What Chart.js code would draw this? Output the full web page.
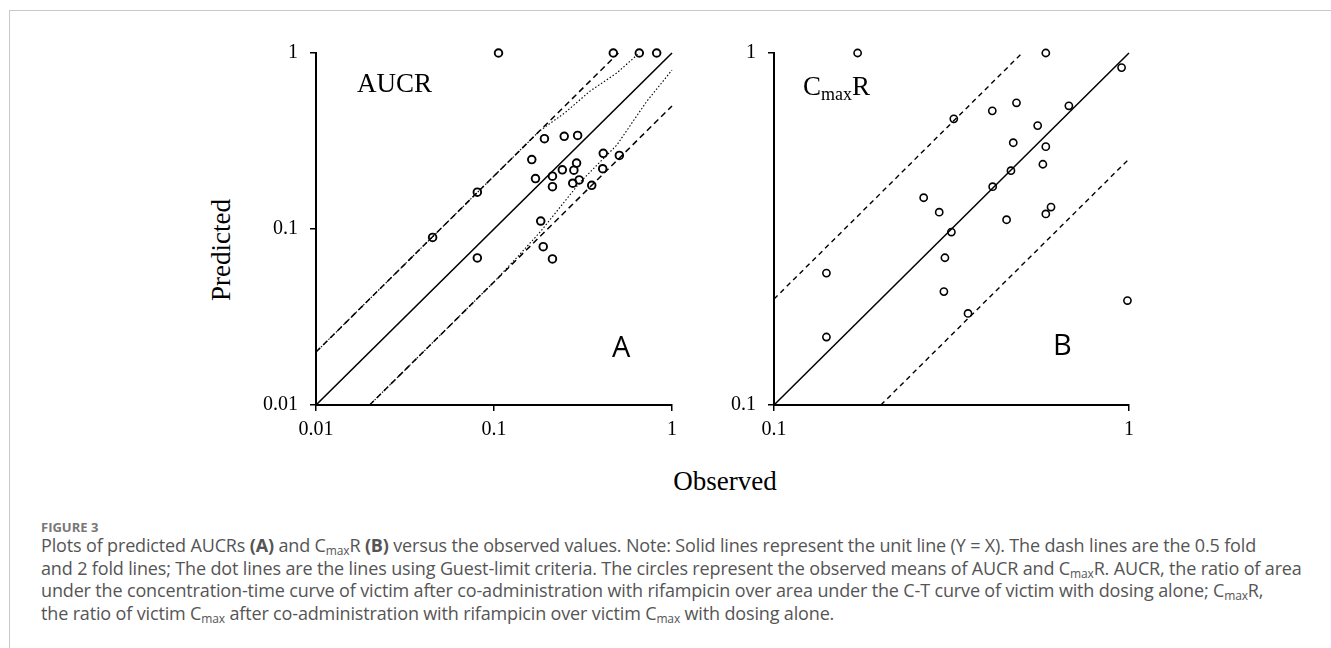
<!DOCTYPE html>
<html>
<head>
<meta charset="utf-8">
<script src="https://cdn.jsdelivr.net/npm/chart.js@4.4.1/dist/chart.umd.min.js"></script>
<style>
  html, body { margin: 0; padding: 0; background: #fff; }
  body { width: 1331px; height: 648px; position: relative; overflow: hidden; }
  .frame { position: absolute; left: 9px; top: 10px; width: 1340px; height: 660px; border: 1px solid #c8c8c8; }
  canvas { position: absolute; }
  .lbl { position: absolute; font-family: 'Liberation Serif', 'Times New Roman', serif; font-size: 27px; line-height: 27px; color: #000; white-space: nowrap; }
  .lbl sub { font-size: 18px; vertical-align: -5px; line-height: 0; }
  .tag { position: absolute; font-family: 'Open Sans', sans-serif; font-size: 29px; line-height: 29px; color: #000; }
  .fig { position: absolute; left: 41px; top: 521px; font-family: 'Open Sans', sans-serif; font-weight: 700; font-size: 13px; line-height: 13px; color: #777; }
  .cap { position: absolute; left: 41px; top: 534px; font-family: 'Open Sans', sans-serif; font-size: 18px; line-height: 22.7px; color: #555; letter-spacing: -0.15px; }
  .cap div { white-space: nowrap; }
  .cap sub { font-size: 12px; vertical-align: -3px; line-height: 0; }
</style>
</head>
<body>
<div class="frame"></div>
<canvas id="chartA" width="450" height="431" style="left:236px;top:29px"></canvas>
<canvas id="chartB" width="450" height="431" style="left:694px;top:29px"></canvas>

<div class="lbl" style="left:357px;top:70px">AUCR</div>
<div class="lbl" style="left:803px;top:73px">C<sub>max</sub>R</div>
<div class="tag" style="left:612px;top:331px">A</div>
<div class="tag" style="left:1053px;top:329px">B</div>
<div class="lbl" style="left:221px;top:250px;transform:translate(-50%,-50%) rotate(-90deg)">Predicted</div>
<div class="lbl" style="left:725px;top:468px;transform:translateX(-50%)">Observed</div>

<div class="fig">FIGURE 3</div>
<div class="cap">
  <div>Plots of predicted AUCRs <b>(A)</b> and C<sub>max</sub>R <b>(B)</b> versus the observed values. Note: Solid lines represent the unit line (Y = X). The dash lines are the 0.5 fold</div>
  <div>and 2 fold lines; The dot lines are the lines using Guest-limit criteria. The circles represent the observed means of AUCR and C<sub>max</sub>R. AUCR, the ratio of area</div>
  <div>under the concentration-time curve of victim after co-administration with rifampicin over area under the C-T curve of victim with dosing alone; C<sub>max</sub>R,</div>
  <div>the ratio of victim C<sub>max</sub> after co-administration with rifampicin over victim C<sub>max</sub> with dosing alone.</div>
</div>

<script>
// ---- panel A: AUCR ----
const aTicks = [0.01, 0.1, 1];
const aObs  = [0.106, 0.468, 0.655, 0.82, 0.192, 0.248, 0.295, 0.163, 0.411, 0.506, 0.291, 0.242, 0.281,
               0.213, 0.171, 0.408, 0.301, 0.277, 0.213, 0.354, 0.0806, 0.183, 0.0452, 0.0806, 0.189, 0.213];
const aPred = [1.0, 1.0, 1.0, 1.0, 0.326, 0.336, 0.340, 0.248, 0.269, 0.262, 0.237, 0.217, 0.216,
               0.1995, 0.1935, 0.220, 0.190, 0.182, 0.174, 0.177, 0.162, 0.111, 0.0896, 0.0685, 0.0794, 0.0676];
// reference lines (x ends / y ends)
const aUnitX = [0.01, 1],   aUnitY = [0.01, 1];
const aTwoX  = [0.01, 0.5], aTwoY  = [0.02, 1];
const aHalfX = [0.02, 1],   aHalfY = [0.01, 0.5];
// Guest limits
const guestUpX = [0.01, 0.1, 0.18, 0.25, 0.346, 0.489, 0.655];
const guestUpY = [0.02, 0.2, 0.36, 0.457, 0.607, 0.769, 1.0];
const guestLoX = [0.02, 0.1, 0.14, 0.183, 0.304, 0.49, 0.72, 1.0];
const guestLoY = [0.01, 0.05, 0.072, 0.097, 0.184, 0.30, 0.53, 0.8];

// ---- panel B: CmaxR ----
const bTicks = [0.1, 1];
const bObs  = [0.172, 0.583, 0.953, 0.482, 0.412, 0.677, 0.321, 0.553, 0.472, 0.583, 0.572, 0.465, 0.413,
               0.264, 0.292, 0.603, 0.583, 0.452, 0.316, 0.303, 0.1405, 0.301, 0.352, 0.99, 0.1405];
const bPred = [1.0, 1.0, 0.909, 0.722, 0.685, 0.708, 0.650, 0.622, 0.556, 0.542, 0.483, 0.463, 0.417,
               0.388, 0.353, 0.365, 0.349, 0.336, 0.310, 0.262, 0.237, 0.210, 0.182, 0.198, 0.156];
const bUnitX = [0.1, 1],   bUnitY = [0.1, 1];
const bTwoX  = [0.1, 0.5], bTwoY  = [0.2, 1];
const bHalfX = [0.2, 1],   bHalfY = [0.1, 0.5];

const pts = (xs, ys) => xs.map((x, i) => ({ x, y: ys[i] }));

function lineSet(xs, ys, dash, width) {
  return { data: pts(xs, ys), showLine: true, pointRadius: 0, borderColor: '#000', borderWidth: width,
           borderDash: dash, tension: 0, fill: false, clip: false };
}

function logAxis(ticks, isX) {
  return {
    type: 'logarithmic', min: ticks[0], max: ticks[ticks.length - 1],
    afterBuildTicks: s => { s.ticks = ticks.map(v => ({ value: v })); },
    afterFit: s => { if (isX) s.height = 55; else s.width = 80; },
    ticks: { color: '#000', font: { family: 'Liberation Serif', size: 20 }, padding: isX ? 7 : 12,
             maxRotation: 0, autoSkip: false, callback: v => String(v) },
    grid: { drawOnChartArea: false, drawTicks: true, tickLength: 6, color: '#000', lineWidth: 1.5 },
    border: { display: true, color: '#000', width: 2 }
  };
}

function makePanel(id, ticks, obs, pred, lines, rightPad, r, bw) {
  new Chart(document.getElementById(id), {
    type: 'scatter',
    data: { datasets: [
      { data: pts(obs, pred), pointRadius: r, pointBorderWidth: bw, pointBorderColor: '#000',
        pointBackgroundColor: 'rgba(255,255,255,0)', showLine: false, clip: false },
      ...lines
    ]},
    options: {
      responsive: false, animation: false, devicePixelRatio: 1,
      layout: { padding: { top: 1, right: rightPad, left: 0, bottom: 0 } },
      plugins: { legend: { display: false }, tooltip: { enabled: false } },
      scales: { x: logAxis(ticks, true), y: logAxis(ticks, false) }
    }
  });
}

makePanel('chartA', aTicks, aObs, aPred, [
  lineSet(aUnitX, aUnitY, [], 1.6),
  lineSet(aTwoX, aTwoY, [6, 4], 1.5),
  lineSet(aHalfX, aHalfY, [6, 4], 1.5),
  lineSet(guestUpX, guestUpY, [1.5, 2], 1.1),
  lineSet(guestLoX, guestLoY, [1.5, 2], 1.1)
], 14, 3.8, 1.9);

makePanel('chartB', bTicks, bObs, bPred, [
  lineSet(bUnitX, bUnitY, [], 1.5),
  lineSet(bTwoX, bTwoY, [5, 4], 1.4),
  lineSet(bHalfX, bHalfY, [5, 4], 1.4)
], 15, 3.6, 1.6);
</script>
</body>
</html>
